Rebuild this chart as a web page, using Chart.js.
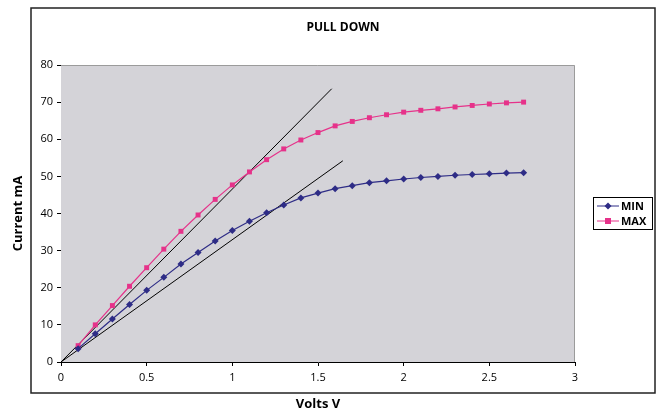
<!DOCTYPE html>
<html>
<head>
<meta charset="utf-8">
<script src="https://cdn.jsdelivr.net/npm/chart.js@4.4.1/dist/chart.umd.min.js"></script>
<style>
  html, body { margin: 0; padding: 0; background: #fff; }
  #wrap { width: 659px; height: 412px; position: relative; }
</style>
</head>
<body>
<div id="wrap"><canvas id="c" width="659" height="412"></canvas></div>
<script>
// --- data ---
const VOLTS = [0.1, 0.2, 0.3, 0.4, 0.5, 0.6, 0.7, 0.8, 0.9, 1.0, 1.1, 1.2, 1.3, 1.4,
               1.5, 1.6, 1.7, 1.8, 1.9, 2.0, 2.1, 2.2, 2.3, 2.4, 2.5, 2.6, 2.7];
const MIN_MA = [3.6, 7.6, 11.6, 15.5, 19.3, 22.8, 26.4, 29.5, 32.6, 35.4, 37.9, 40.2, 42.3, 44.2,
                45.5, 46.7, 47.5, 48.3, 48.8, 49.3, 49.7, 50.0, 50.3, 50.5, 50.7, 50.9, 51.0];
const MAX_MA = [4.4, 10.0, 15.2, 20.4, 25.4, 30.4, 35.2, 39.6, 43.8, 47.7, 51.2, 54.5, 57.4, 59.8,
                61.8, 63.6, 64.8, 65.8, 66.6, 67.3, 67.8, 68.2, 68.7, 69.1, 69.5, 69.8, 70.0];
// straight reference lines drawn from the origin
const LINE_A_X = [0, 1.58];
const LINE_A_Y = [0, 73.6];
const LINE_B_X = [0, 1.645];
const LINE_B_Y = [0, 54.2];
const X_TICKS = [0, 0.5, 1, 1.5, 2, 2.5, 3];
const Y_TICKS = [0, 10, 20, 30, 40, 50, 60, 70, 80];

const MIN_COLOR = "#2e2c86";
const MAX_COLOR = "#e6328a";
const PLOT_BG = "#d4d3d8";
const FONT = "'Open Sans', 'DejaVu Sans', sans-serif";

const pts = (xs, ys) => xs.map((x, i) => ({ x: x, y: ys[i] }));

// plot background + outer frame + title + boxed legend
const decor = {
  id: "decor",
  beforeDatasetsDraw(chart) {
    const { ctx, chartArea: a } = chart;
    ctx.save();
    ctx.fillStyle = PLOT_BG;
    ctx.fillRect(a.left, a.top, a.right - a.left, a.bottom - a.top);
    ctx.strokeStyle = "#9b9b9b";
    ctx.lineWidth = 1;
    ctx.beginPath();
    ctx.moveTo(a.left, a.top + 0.5);
    ctx.lineTo(a.right - 0.5, a.top + 0.5);
    ctx.lineTo(a.right - 0.5, a.bottom);
    ctx.stroke();
    ctx.restore();
  },
  afterDraw(chart) {
    const ctx = chart.ctx;
    ctx.save();
    // outer frame
    ctx.strokeStyle = "#222";
    ctx.lineWidth = 1.5;
    ctx.strokeRect(31, 8, 624, 385);
    // title
    ctx.fillStyle = "#000";
    ctx.font = "bold 12px " + FONT;
    ctx.textAlign = "center";
    ctx.textBaseline = "middle";
    ctx.fillText("PULL DOWN", 343, 28);
    // legend
    const lx = 593, ly = 197;
    ctx.fillStyle = "#fff";
    ctx.fillRect(lx, ly, 59, 32);
    ctx.strokeStyle = "#000";
    ctx.lineWidth = 1;
    ctx.strokeRect(lx + 0.5, ly + 0.5, 59, 32);
    const items = chart.data.datasets.filter(d => d.label);
    items.forEach((d, i) => {
      const y = ly + 9 + i * 15;
      ctx.strokeStyle = d.borderColor;
      ctx.lineWidth = 1;
      ctx.beginPath();
      ctx.moveTo(lx + 4, y);
      ctx.lineTo(lx + 26, y);
      ctx.stroke();
      ctx.fillStyle = d.borderColor;
      if (d.pointStyle === "rect") {
        ctx.fillRect(lx + 12, y - 3, 6, 6);
      } else {
        ctx.beginPath();
        ctx.moveTo(lx + 15, y - 3.5);
        ctx.lineTo(lx + 18.5, y);
        ctx.lineTo(lx + 15, y + 3.5);
        ctx.lineTo(lx + 11.5, y);
        ctx.closePath();
        ctx.fill();
      }
      ctx.fillStyle = "#000";
      ctx.font = "bold 11px " + FONT;
      ctx.textAlign = "left";
      ctx.fillText(d.label, lx + 28, y + 0.5);
    });
    ctx.restore();
  }
};

new Chart(document.getElementById("c"), {
  type: "line",
  data: {
    datasets: [
      {
        label: "MIN",
        data: pts(VOLTS, MIN_MA),
        borderColor: MIN_COLOR,
        backgroundColor: MIN_COLOR,
        borderWidth: 1.2,
        pointStyle: "rectRot",
        pointRadius: 3.5,
        pointBorderWidth: 0,
      },
      {
        label: "MAX",
        data: pts(VOLTS, MAX_MA),
        borderColor: MAX_COLOR,
        backgroundColor: MAX_COLOR,
        borderWidth: 1.2,
        pointStyle: "rect",
        pointRadius: 3.5,
        pointBorderWidth: 0,
      },
      {
        data: pts(LINE_A_X, LINE_A_Y),
        borderColor: "#000",
        borderWidth: 1,
        pointRadius: 0,
      },
      {
        data: pts(LINE_B_X, LINE_B_Y),
        borderColor: "#000",
        borderWidth: 1,
        pointRadius: 0,
      },
    ],
  },
  options: {
    responsive: false,
    animation: false,
    events: [],
    layout: { padding: { top: 65, right: 84, left: 0, bottom: 0 } },
    plugins: {
      legend: { display: false },
      tooltip: { enabled: false },
      title: { display: false },
    },
    scales: {
      x: {
        type: "linear",
        min: 0,
        max: 3,
        afterFit: (s) => { s.height = 50; },
        afterBuildTicks: (s) => { s.ticks = X_TICKS.map(v => ({ value: v })); },
        ticks: {
          color: "#000",
          font: { family: FONT, size: 11 },
          padding: 5,
          callback: (v) => String(v),
        },
        grid: { drawOnChartArea: false, color: "#000", tickLength: 4 },
        border: { color: "#000", width: 1 },
        title: {
          display: true,
          text: "Volts V",
          color: "#000",
          font: { family: FONT, size: 13, weight: "bold" },
          padding: { top: 0, bottom: 0 },
        },
      },
      y: {
        type: "linear",
        min: 0,
        max: 80,
        afterFit: (s) => { s.width = 61; },
        afterBuildTicks: (s) => { s.ticks = Y_TICKS.map(v => ({ value: v })); },
        ticks: {
          color: "#000",
          font: { family: FONT, size: 11 },
          padding: 4,
          callback: (v) => String(v),
        },
        grid: { drawOnChartArea: false, color: "#000", tickLength: 4 },
        border: { color: "#000", width: 1 },
        title: {
          display: true,
          text: "Current mA",
          color: "#000",
          font: { family: FONT, size: 13, weight: "bold" },
          padding: { top: 10, bottom: 0 },
        },
      },
    },
  },
  plugins: [decor],
});
</script>
</body>
</html>
